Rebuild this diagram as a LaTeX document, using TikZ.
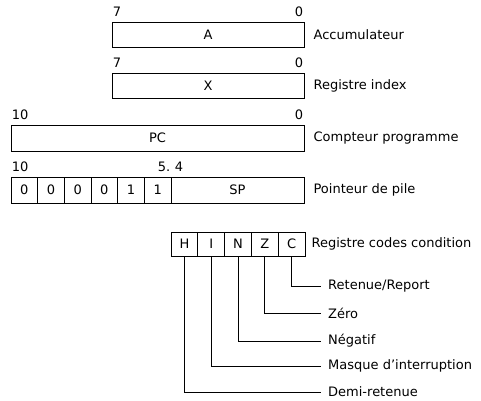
\documentclass[tikz,border=0pt]{standalone}
\usepackage{fontspec}
\setmainfont{DejaVu Sans}
\usetikzlibrary{positioning}

\begin{document}
\begin{tikzpicture}[
        x=1pt, y=-1pt,
        font=\fontsize{13}{15}\selectfont,
        reg/.style={draw, line width=0.8pt, minimum height=25pt, inner sep=0pt},
        cell/.style={reg, minimum width=26.67pt, minimum height=26pt},
        flag/.style={reg, minimum width=26.8pt, minimum height=24pt},
        bit/.style={inner sep=1pt, yshift=4pt},
        regname/.style={inner sep=1pt},
        meaning/.style={anchor=west, inner xsep=7pt, inner ysep=1pt},
        link/.style={line width=0.8pt}
    ]
        \useasboundingbox (0,0) rectangle (481,400);

        % accumulateur et registre index
        \node[reg, minimum width=192pt] (a) at (208,34.5) {A};
        \node[reg, minimum width=192pt] (x) at (208,86) {X};
        \node[bit, anchor=south west] (a7) at (a.north west) {7};
        \node[bit, anchor=south east] (a0) at (a.north east) {0};
        \node[bit, anchor=south west] (x7) at (x.north west) {7};
        \node[bit, anchor=south east] (x0) at (x.north east) {0};
        \node[regname, right=8pt of a] (la) {Accumulateur};
        \node[regname, right=8pt of x] (lx) {Registre index};

        % compteur programme
        \node[reg, minimum width=293pt, minimum height=26pt] (pc) at (157.5,138) {PC};
        \node[bit, anchor=south west] (pc10) at (pc.north west) {10};
        \node[bit, anchor=south east] (pc0) at (pc.north east) {0};
        \node[regname, right=8pt of pc] (lpc) {Compteur programme};

        % pointeur de pile
        \node[cell] (b10) at (24.33,190) {0};
        \node[cell] (b9) at (51,190) {0};
        \node[cell] (b8) at (77.67,190) {0};
        \node[cell] (b7) at (104.33,190) {0};
        \node[cell] (b6) at (131,190) {1};
        \node[cell] (b5) at (157.67,190) {1};
        \node[reg, minimum width=133pt, minimum height=26pt] (sp) at (237.5,190) {SP};
        \node[bit, anchor=south west] (sp10) at (b10.north west) {10};
        \node[bit, anchor=south east] (sp5) at (b5.north east) {5.};
        \node[bit, anchor=south west, xshift=3pt] (sp4) at (sp.north west) {4};
        \node[regname, right=8pt of sp] (lsp) {Pointeur de pile};

        % registre codes condition
        \node[flag] (fh) at (184.4,244) {H};
        \node[flag] (fi) at (211.2,244) {I};
        \node[flag] (fn) at (238,244) {N};
        \node[flag] (fz) at (264.8,244) {Z};
        \node[flag] (fc) at (291.6,244) {C};
        \node[regname, right=5pt of fc] (lcc) {Registre codes condition};

        \node[meaning] (mc) at (321,286) {Retenue/Report};
        \node[meaning] (mz) at (321,313) {Zéro};
        \node[meaning] (mn) at (321,341) {Négatif};
        \node[meaning] (mi) at (321,366) {Masque d’interruption};
        \node[meaning] (mh) at (321,392) {Demi-retenue};

        \draw[link] (fc) |- (mc);
        \draw[link] (fz) |- (mz);
        \draw[link] (fn) |- (mn);
        \draw[link] (fi) |- (mi);
        \draw[link] (fh) |- (mh);
    \end{tikzpicture}
\end{document}
